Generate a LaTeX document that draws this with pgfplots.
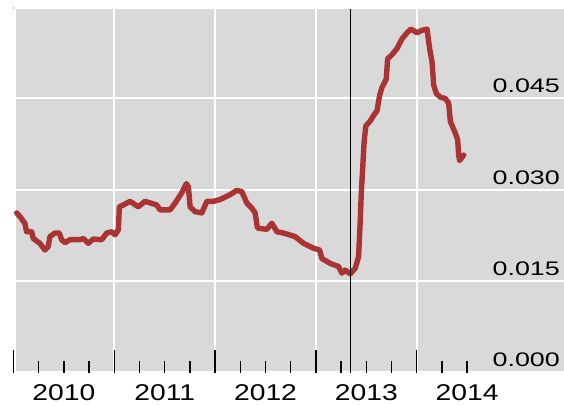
\documentclass[border=0pt]{standalone}
\usepackage{pgfplots}
\pgfplotsset{compat=1.18}
\usepackage{graphicx}
\usepackage{fontspec}
\setmainfont{Liberation Sans}
\definecolor{panel}{RGB}{217,217,217}
\definecolor{series}{RGB}{170,51,51}
\definecolor{axisgray}{RGB}{190,190,190}
\newcommand\wx[1]{\scalebox{1.24}[1]{\fontsize{22.8}{24}\selectfont #1}}
\newcommand\wy[1]{\scalebox{1.37}[1]{\fontsize{19.6}{22}\selectfont #1}}
\begin{document}
\begin{tikzpicture}
\begin{axis}[
  set layers,
  scale only axis,
  width=550.5pt, height=364.3pt,
  xmin=2010, xmax=2015.461,
  ymin=-0.00015, ymax=0.0597,
  axis line style={draw=none},
  scaled y ticks=false,
  scaled x ticks=false,
  xtick={2010,2011,2012,2013,2014},
  xticklabels={},
  minor xtick={2010.25,2010.5,2010.75,2011.25,2011.5,2011.75,2012.25,2012.5,2012.75,2013.25,2013.5,2013.75,2014.25,2014.5},
  xtick pos=bottom,
  xtick align=inside,
  major tick length=23.3pt,
  minor tick length=12pt,
  xtick style={black, line width=1.4pt},
  minor x tick style={black, line width=1.3pt},
  extra x ticks={2010.5,2011.5,2012.5,2013.5,2014.5},
  extra x tick labels={\wx{2010},\wx{2011},\wx{2012},\wx{2013},\wx{2014}},
  extra x tick style={major tick length=0pt, grid=none,
     xticklabel style={anchor=base, inner sep=0pt, yshift=-27.4pt}},
  ytick={0,0.015,0.030,0.045},
  yticklabels={\wy{0.000},\wy{0.015},\wy{0.030},\wy{0.045}},
  yticklabel pos=right,
  ytick pos=left,
  ytick style={draw=none},
  yticklabel style={anchor=base east, inner sep=0pt, xshift=-4pt, yshift=5.5pt},
  xmajorgrids, ymajorgrids,
  grid style={white, line width=2pt},
  clip=false,
]
\begin{pgfonlayer}{axis background}
  \fill[panel] ([xshift=2.5pt]rel axis cs:0,0) rectangle (rel axis cs:1,1);
  \draw[axisgray, line width=0.8pt] ([yshift=2.3pt]rel axis cs:0,1) -- (rel axis cs:0,0);
\end{pgfonlayer}
\addplot[series, line width=5.4pt, line join=round, line cap=round] coordinates {
(2010.031,0.0262)
(2010.064,0.0256)
(2010.113,0.0245)
(2010.130,0.0231)
(2010.180,0.0231)
(2010.196,0.0220)
(2010.262,0.0212)
(2010.312,0.0201)
(2010.345,0.0207)
(2010.361,0.0223)
(2010.411,0.0229)
(2010.454,0.0229)
(2010.478,0.0218)
(2010.510,0.0213)
(2010.560,0.0218)
(2010.659,0.0218)
(2010.692,0.0220)
(2010.742,0.0212)
(2010.791,0.0219)
(2010.875,0.0218)
(2010.925,0.0229)
(2010.974,0.0231)
(2011.007,0.0226)
(2011.040,0.0234)
(2011.050,0.0272)
(2011.089,0.0275)
(2011.156,0.0281)
(2011.238,0.0272)
(2011.305,0.0281)
(2011.421,0.0275)
(2011.454,0.0267)
(2011.553,0.0267)
(2011.603,0.0278)
(2011.669,0.0295)
(2011.715,0.0310)
(2011.735,0.0305)
(2011.752,0.0272)
(2011.801,0.0264)
(2011.868,0.0262)
(2011.918,0.0281)
(2011.983,0.0281)
(2012.050,0.0284)
(2012.149,0.0292)
(2012.215,0.0299)
(2012.265,0.0297)
(2012.315,0.0278)
(2012.364,0.0270)
(2012.397,0.0262)
(2012.420,0.0237)
(2012.513,0.0235)
(2012.563,0.0245)
(2012.613,0.0231)
(2012.678,0.0229)
(2012.794,0.0223)
(2012.877,0.0212)
(2012.976,0.0204)
(2013.036,0.0201)
(2013.060,0.0187)
(2013.142,0.0179)
(2013.224,0.0174)
(2013.258,0.0163)
(2013.291,0.0168)
(2013.341,0.0162)
(2013.390,0.0171)
(2013.423,0.0190)
(2013.440,0.0250)
(2013.450,0.0295)
(2013.465,0.0339)
(2013.478,0.0378)
(2013.495,0.0405)
(2013.539,0.0413)
(2013.572,0.0422)
(2013.606,0.0430)
(2013.632,0.0455)
(2013.655,0.0468)
(2013.698,0.0482)
(2013.711,0.0515)
(2013.755,0.0522)
(2013.804,0.0532)
(2013.854,0.0548)
(2013.904,0.0558)
(2013.943,0.0564)
(2014.003,0.0558)
(2014.053,0.0562)
(2014.102,0.0564)
(2014.128,0.0532)
(2014.152,0.0510)
(2014.168,0.0472)
(2014.195,0.0458)
(2014.235,0.0452)
(2014.284,0.0450)
(2014.317,0.0442)
(2014.334,0.0412)
(2014.383,0.0393)
(2014.406,0.0382)
(2014.416,0.0357)
(2014.426,0.0348)
(2014.466,0.0357)
};
\draw[black, line width=1.3pt] (axis cs:2013.341,-0.00015) -- (axis cs:2013.341,0.0597);
\end{axis}
\pgfresetboundingbox
\path[use as bounding box] (-13.5pt,-32.7pt) rectangle (550.5pt,373.3pt);
\end{tikzpicture}
\end{document}
